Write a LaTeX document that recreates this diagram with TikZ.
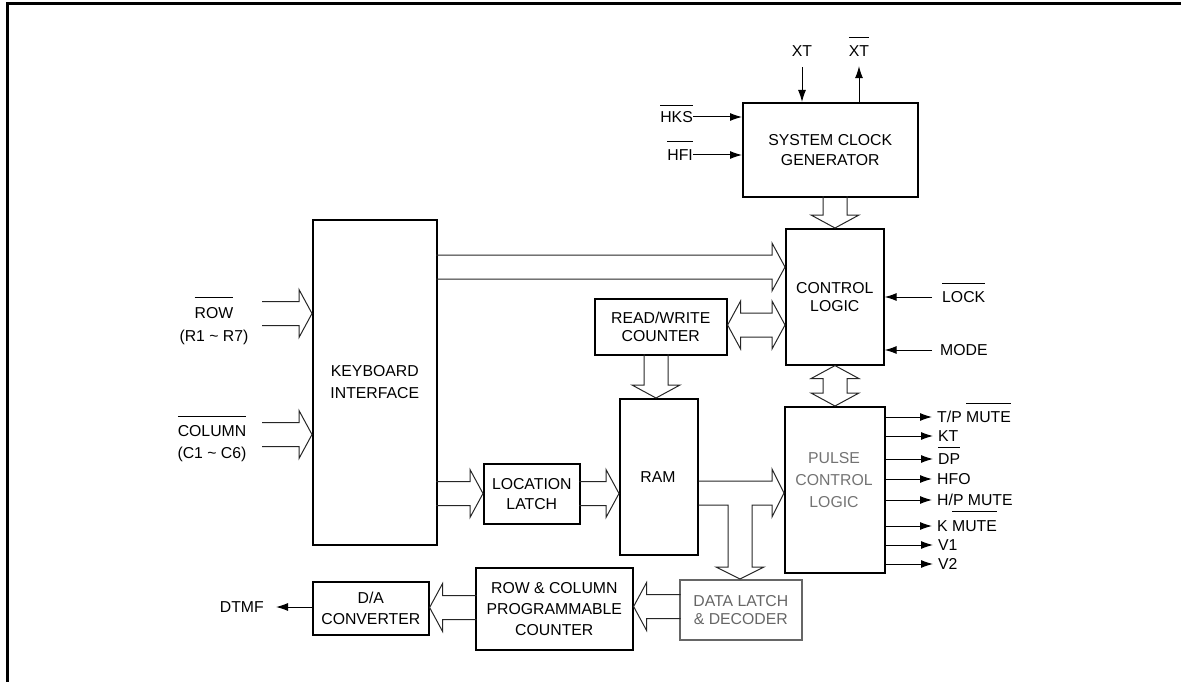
\documentclass[tikz,border=0pt]{standalone}
\usepackage{fontspec}
\setmainfont{Liberation Sans}
\usetikzlibrary{arrows.meta,calc}
\newcommand{\fsz}{\fontsize{15.8pt}{20pt}\selectfont}
\newcommand{\ovl}[2][19]{\leavevmode\setbox0=\hbox{#2}\rlap{\smash{\rule[#1pt]{\wd0}{0.9pt}}}\box0}
% bus arrows: tip coordinate, length back to the start
\newcommand{\busE}[2]{\coordinate (bt) at #1;
 \draw[bus] ($(bt)+(-#2,-12)$) -- ($(bt)+(-13,-12)$) -- ($(bt)+(-13,-24)$) -- (bt) -- ($(bt)+(-13,24)$) -- ($(bt)+(-13,12)$) -- ($(bt)+(-#2,12)$);}
\newcommand{\busW}[2]{\coordinate (bt) at #1;
 \draw[bus] ($(bt)+(#2,-12)$) -- ($(bt)+(13,-12)$) -- ($(bt)+(13,-24)$) -- (bt) -- ($(bt)+(13,24)$) -- ($(bt)+(13,12)$) -- ($(bt)+(#2,12)$);}
\newcommand{\busS}[2]{\coordinate (bt) at #1;
 \draw[bus] ($(bt)+(-12,-#2)$) -- ($(bt)+(-12,-13)$) -- ($(bt)+(-24,-13)$) -- (bt) -- ($(bt)+(24,-13)$) -- ($(bt)+(12,-13)$) -- ($(bt)+(12,-#2)$);}
\newcommand{\busEW}[2]{\coordinate (ba) at #1; \coordinate (bb) at #2;
 \draw[bus] (ba) -- ($(ba)+(13,-24)$) -- ($(ba)+(13,-12)$) -- ($(bb)+(-13,-12)$) -- ($(bb)+(-13,-24)$) -- (bb) -- ($(bb)+(-13,24)$) -- ($(bb)+(-13,12)$) -- ($(ba)+(13,12)$) -- ($(ba)+(13,24)$) -- cycle;}
\newcommand{\busNS}[2]{\coordinate (ba) at #1; \coordinate (bb) at #2;
 \draw[bus] (ba) -- ($(ba)+(-24,13)$) -- ($(ba)+(-12,13)$) -- ($(bb)+(-12,-13)$) -- ($(bb)+(-24,-13)$) -- (bb) -- ($(bb)+(24,-13)$) -- ($(bb)+(12,-13)$) -- ($(ba)+(12,13)$) -- ($(ba)+(24,13)$) -- cycle;}
\begin{document}
\begin{tikzpicture}[x=1pt,y=-1pt,
  box/.style={draw,line width=1.6pt,align=center,inner sep=0pt,anchor=north west,font=\fsz},
  lbl/.style={inner sep=0pt,font=\fsz,align=center},
  sig/.style={line width=1pt,-{Latex[length=12pt,width=8pt]}},
  bus/.style={line width=1pt,black!85,line join=miter},
  faded/.style={black!55}]
\useasboundingbox (0,0) rectangle (1181,682);
\draw[line width=3.3pt,line join=miter] (7.3,682) -- (7.3,3.3) -- (1181,3.3);

% blocks
\node[box,minimum width=175pt,minimum height=94pt] (scg) at (742,102) {SYSTEM CLOCK\\GENERATOR};
\node[box,minimum width=98pt,minimum height=136pt] (cl) at (785,228) {CONTROL\\[-2pt]LOGIC};
\node[box,minimum width=124pt,minimum height=325pt] (ki) at (312,219) {KEYBOARD\\[2pt]INTERFACE};
\node[box,minimum width=132pt,minimum height=56pt] (rwc) at (594,298) {READ/WRITE\\[-2pt]COUNTER};
\node[box,minimum width=100pt,minimum height=166pt] (pcl) at (784,406) {};
\node[lbl,faded] (pcltxt) at (834,480) {PULSE\\[2pt]CONTROL\\[2pt]LOGIC};
\node[box,minimum width=96pt,minimum height=60pt] (ll) at (483,463) {LOCATION\\LATCH};
\node[box,minimum width=78pt,minimum height=156pt] (ram) at (619,398) {};
\node[lbl] (ramtxt) at (658,477) {RAM};
\node[box,draw=black!60,text=black!60,minimum width=122pt,minimum height=60pt] (dld) at (679,579) {DATA LATCH\\[-2pt]\& DECODER};
\node[box,minimum width=157pt,minimum height=82pt] (rcpc) at (475,567) {ROW \& COLUMN\\[1pt]PROGRAMMABLE\\[1pt]COUNTER};
\node[box,minimum width=116pt,minimum height=53pt] (da) at (312,581) {D/A\\[1pt]CONVERTER};

% clock inputs / outputs
\node[lbl] (xt) at (802,51.5) {XT};
\node[lbl] (xtb) at (859,51.5) {\ovl{XT}};
\draw[sig] ([yshift=-10pt]xt.south) -- (scg.north -| xt.south);
\draw[sig] (scg.north -| xtb.south) -- ([yshift=-9pt]xtb.south);
\node[lbl,anchor=east] (hks) at (693,117) {\ovl[17]{HKS}};
\node[lbl,anchor=east] (hfi) at (693,155) {\ovl{HFI}};
\draw[sig] (hks.east) -- (scg.west |- hks.east);
\draw[sig] (hfi.east) -- (scg.west |- hfi.east);

% control inputs
\node[lbl,anchor=west] (lock) at (942,297) {\ovl{LOCK}};
\node[lbl,anchor=west] (mode) at (940,350) {MODE};
\draw[sig] ([xshift=-10pt]lock.west) -- (cl.east |- lock.west);
\draw[sig] ([xshift=-8pt]mode.west) -- (cl.east |- mode.west);

% keyboard inputs
\node[lbl] (row) at (214,326.5) {\ovl[21]{ROW}\\[3pt](R1 \textasciitilde{} R7)};
\node[lbl] (col) at (212,444) {\ovl[20]{COLUMN}\\[2pt](C1 \textasciitilde{} C6)};
\busE{(ki.west |- 0,313.5)}{50}
\busE{(ki.west |- 0,434.5)}{50}

% buses
\busE{(cl.west |- 0,267)}{349}
\busS{(cl.north -| 835,0)}{32}
\busEW{(rwc.east |- 0,325)}{(cl.west |- 0,325)}
\busNS{(cl.south -| 835,0)}{(pcl.north -| 835,0)}
\busS{(ram.north -| 656,0)}{44}
\busE{(ll.west |- 0,493.5)}{47}
\busE{(ram.west |- 0,493.5)}{40}
\draw[bus] (ram.east |- 0,481) -- (772,481) -- (772,469) -- (pcl.west |- 0,493) -- (772,517) -- (772,505)
  -- (752,505) -- (752,567) -- (764,567) -- (dld.north -| 740,0) -- (716,567) -- (728,567) -- (728,505) -- (ram.east |- 0,505);
\busW{(rcpc.east |- 0,606.5)}{47}
\busW{(da.east |- 0,607.5)}{47}

% DTMF output
\node[lbl,anchor=east] (dtmf) at (264,607) {DTMF};
\draw[sig] (da.west |- dtmf.east) -- ([xshift=12pt]dtmf.east);

% pulse control outputs
\node[lbl,anchor=west] (o1) at (937,417) {T/P \ovl{MUTE}};
\node[lbl,anchor=west] (o2) at (938,436) {KT};
\node[lbl,anchor=west] (o3) at (938,459) {\ovl[17]{DP}};
\node[lbl,anchor=west] (o4) at (937,479) {HFO};
\node[lbl,anchor=west] (o5) at (937,500) {H/P MUTE};
\node[lbl,anchor=west] (o6) at (937,526) {K \ovl{MUTE}};
\node[lbl,anchor=west] (o7) at (938,545) {V1};
\node[lbl,anchor=west] (o8) at (938,564) {V2};
\foreach \o in {o1,o2,o3,o4,o5,o6,o7,o8}
  \draw[sig] (pcl.east |- \o.west) -- ([xshift=-5pt]\o.west);
\end{tikzpicture}
\end{document}
